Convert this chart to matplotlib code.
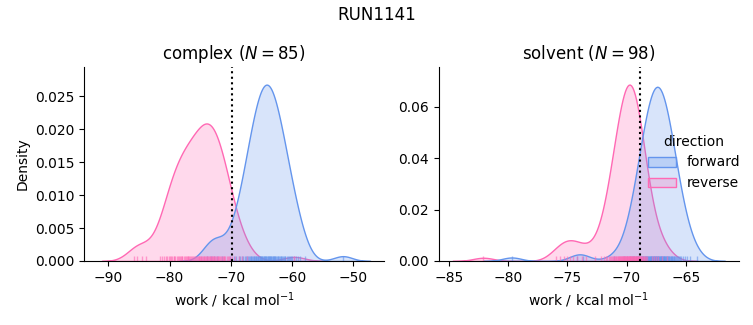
import matplotlib
matplotlib.use("Agg")
import matplotlib.pyplot as plt
import pandas as pd
import seaborn as sns

# work values (kcal/mol) per cycle
complex_forward = [
    -73.90, -73.20, -72.70, -72.20, -71.34, -70.13, -69.44, -69.06, -68.70, -68.41,
    -68.21, -67.92, -67.72, -67.53, -67.31, -67.19, -67.03, -66.88, -66.74, -66.65,
    -66.48, -66.35, -66.23, -66.12, -66.00, -65.89, -65.78, -65.68, -65.53, -65.47,
    -65.36, -65.27, -65.17, -65.07, -64.98, -64.88, -64.79, -64.70, -64.60, -64.51,
    -64.42, -64.36, -64.24, -64.15, -64.05, -63.96, -63.87, -63.78, -63.69, -63.63,
    -63.51, -63.41, -63.32, -63.22, -63.13, -63.03, -62.93, -62.84, -62.73, -62.66,
    -62.53, -62.42, -62.31, -62.20, -62.08, -61.97, -61.81, -61.73, -61.59, -61.46,
    -61.32, -61.17, -61.05, -60.85, -60.68, -60.48, -60.28, -60.05, -59.90, -59.60,
    -59.30, -59.00, -58.60, -57.90, -51.60,
]
complex_reverse = [
    -85.80, -85.30, -84.50, -83.90, -81.60, -81.30, -80.90, -80.60, -80.40, -80.10,
    -79.95, -79.75, -79.55, -79.35, -79.20, -79.05,
    -78.85, -78.65, -78.45, -78.30, -78.15, -78.02,
    -77.90, -77.70, -77.50, -77.35, -77.20, -77.05,
    -76.95, -76.80, -76.60, -76.45, -76.30, -76.20, -76.05,
    -75.90, -75.70, -75.55, -75.40, -75.25, -75.12, -75.02,
    -74.90, -74.78, -74.65, -74.52, -74.40, -74.28, -74.15, -74.03,
    -73.92, -73.80, -73.68, -73.55, -73.45, -73.33, -73.22, -73.12, -73.03,
    -72.90, -72.80, -72.65, -72.50, -72.35, -72.25, -72.10, -72.02,
    -71.90, -71.75, -71.60, -71.45, -71.30, -71.15, -71.03,
    -70.85, -70.65, -70.45, -70.25, -70.08,
    -69.80, -69.30, -68.70, -68.20, -67.40, -59.60,
]
solvent_forward = [
    -79.70, -74.20, -73.70, -71.10, -70.19, -69.92, -69.73, -69.57, -69.44, -69.33,
    -69.24, -69.15, -69.07, -68.99, -68.92, -68.86, -68.79, -68.73, -68.68, -68.62,
    -68.57, -68.52, -68.47, -68.42, -68.38, -68.33, -68.29, -68.25, -68.20, -68.16,
    -68.12, -68.08, -68.04, -68.00, -67.97, -67.93, -67.89, -67.86, -67.82, -67.78,
    -67.75, -67.71, -67.68, -67.64, -67.61, -67.57, -67.54, -67.50, -67.47, -67.43,
    -67.40, -67.37, -67.33, -67.30, -67.26, -67.23, -67.19, -67.16, -67.12, -67.09,
    -67.05, -67.02, -66.98, -66.95, -66.91, -66.87, -66.84, -66.80, -66.76, -66.72,
    -66.68, -66.64, -66.60, -66.56, -66.51, -66.47, -66.42, -66.38, -66.33, -66.28,
    -66.23, -66.18, -66.12, -66.07, -66.01, -65.95, -65.88, -65.81, -65.73, -65.65,
    -65.56, -65.47, -65.36, -65.23, -65.07, -64.88, -64.61, -64.08,
]
solvent_reverse = [
    -82.10, -76.00, -75.60, -75.30, -75.05, -74.80, -74.50, -74.20, -73.80, -73.40,
    -72.68, -72.20, -71.94, -71.76, -71.62, -71.51, -71.41, -71.31, -71.23, -71.16,
    -71.09, -71.03, -70.97, -70.91, -70.85, -70.80, -70.75, -70.71, -70.66, -70.62,
    -70.57, -70.53, -70.49, -70.45, -70.41, -70.37, -70.33, -70.30, -70.26, -70.23,
    -70.19, -70.16, -70.12, -70.09, -70.06, -70.02, -69.99, -69.96, -69.93, -69.89,
    -69.86, -69.83, -69.80, -69.77, -69.74, -69.71, -69.68, -69.65, -69.62, -69.59,
    -69.55, -69.52, -69.49, -69.46, -69.43, -69.40, -69.37, -69.34, -69.31, -69.27,
    -69.24, -69.21, -69.17, -69.14, -69.11, -69.07, -69.03, -69.00, -68.96, -68.92,
    -68.88, -68.84, -68.80, -68.75, -68.71, -68.66, -68.60, -68.55, -68.49, -68.43,
    -68.36, -68.29, -67.85, -67.70, -67.50, -67.30, -67.00, -66.60,
]

# free energy estimate per phase (dotted line)
phases = ["complex", "solvent"]
dg_estimate = [-69.8, -68.85]

rows = []
for phase, fwd, rev in zip(phases, [complex_forward, solvent_forward],
                           [complex_reverse, solvent_reverse]):
    rows += [(phase, "forward", w) for w in fwd]
    rows += [(phase, "reverse", w) for w in rev]
df = pd.DataFrame(rows, columns=["phase", "direction", "work"])

g = sns.displot(data=df, x="work", hue="direction", col="phase", kind="kde",
                fill=True, rug=True, col_order=phases,
                hue_order=["forward", "reverse"],
                palette={"forward": "cornflowerblue", "reverse": "hotpink"},
                rug_kws=dict(alpha=0.6),
                facet_kws=dict(sharex=False, sharey=False), height=3, aspect=1)

fig = g.figure
fig.set_size_inches(7.53, 3.25)
fig.subplots_adjust(left=0.1116, right=0.981, bottom=0.197, top=0.794, wspace=0.183)

for ax, phase, dg in zip(g.axes.flat, phases, dg_estimate):
    n = (df.phase == phase).sum() // 2
    ax.set_title(f"{phase} ($N={n}$)")
    ax.axvline(dg, color="k", ls=":", lw=1.5)
    ax.set_xlabel("work / kcal mol$^{-1}$")
g.axes.flat[0].set_ylabel("Density")
g.axes.flat[0].set_xlim(-94, -44.9)

sns.move_legend(g, "center right", bbox_to_anchor=(1.0, 0.5), frameon=False)
fig.suptitle("RUN1141")

fig.savefig("out.png", dpi=100)
